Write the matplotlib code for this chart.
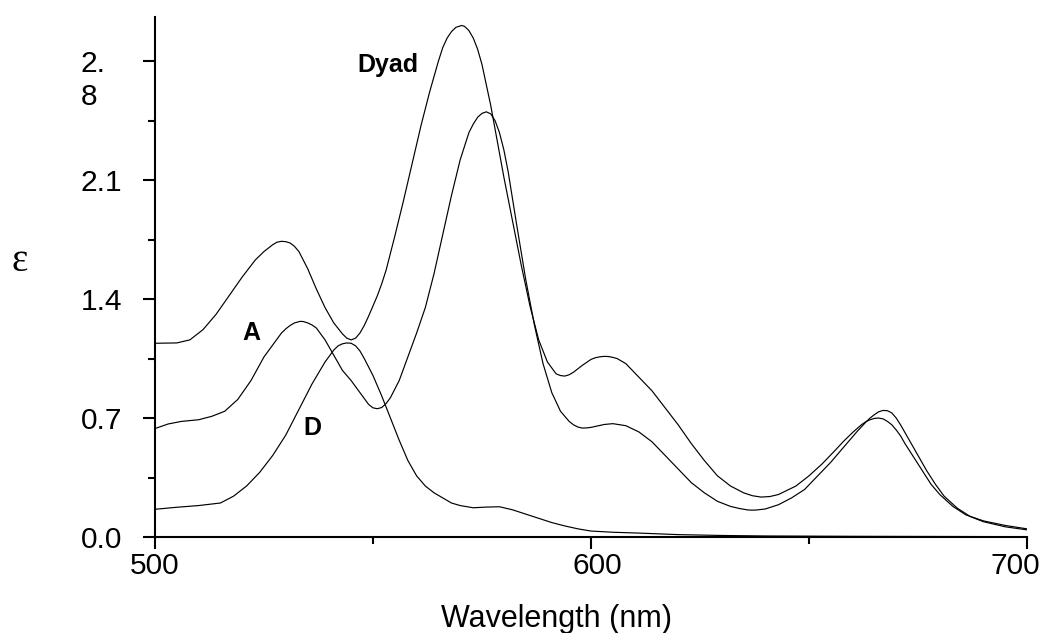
import matplotlib
matplotlib.use("Agg")
import matplotlib.pyplot as plt
from matplotlib.transforms import ScaledTranslation

# ---------------- data ----------------
wl_dyad = [500, 505, 508, 511, 514, 517, 520, 523, 525, 527, 528, 529, 530, 531, 532, 533, 535, 537,
           539, 541, 543, 544, 545, 546, 547, 548, 549, 550, 551, 552, 553, 555, 557, 559, 561, 563,
           565, 566, 567, 568, 569, 570.3, 571, 572, 573, 574, 575, 576, 577, 578, 580, 582, 584, 586,
           588, 590, 592, 593, 594, 595, 596, 598, 600, 601, 602, 603, 604, 605, 606, 608, 611, 614,
           617, 620, 623, 626, 629, 632, 635, 637, 639, 641, 643, 645, 647, 650, 653, 656, 658, 660,
           662, 663, 664, 665, 666, 667, 668, 669, 670, 671, 672, 674, 676, 678, 680, 683, 686, 690,
           695, 700]
eps_dyad = [1.140, 1.142, 1.16, 1.22, 1.31, 1.42, 1.53, 1.63, 1.68, 1.72, 1.735, 1.74, 1.738, 1.73,
            1.71, 1.68, 1.58, 1.46, 1.35, 1.26, 1.195, 1.17, 1.16, 1.17, 1.20, 1.245, 1.30, 1.36, 1.42,
            1.49, 1.57, 1.77, 1.98, 2.20, 2.42, 2.62, 2.80, 2.88, 2.936, 2.974, 2.999, 3.01, 3.005,
            2.98, 2.936, 2.87, 2.78, 2.66, 2.54, 2.40, 2.12, 1.86, 1.60, 1.36, 1.16, 1.03, 0.96, 0.95,
            0.947, 0.955, 0.97, 1.01, 1.045, 1.055, 1.06, 1.063, 1.062, 1.057, 1.05, 1.02, 0.94, 0.86,
            0.76, 0.66, 0.55, 0.45, 0.36, 0.30, 0.26, 0.243, 0.235, 0.238, 0.25, 0.275, 0.30, 0.36,
            0.43, 0.51, 0.565, 0.615, 0.66, 0.678, 0.69, 0.698, 0.70, 0.695, 0.68, 0.66, 0.63, 0.595,
            0.55, 0.47, 0.39, 0.31, 0.25, 0.18, 0.13, 0.095, 0.068, 0.048]

wl_a = [500, 503, 506, 510, 513, 516, 519, 522, 525, 527, 529, 530, 531, 532, 533.3, 534, 535, 536,
        537, 539, 541, 543, 545, 547, 549, 550, 551, 552, 553, 554, 556, 558, 560, 562, 564, 566, 568,
        570, 572, 573, 574, 575, 576, 577, 578, 579, 580, 581, 583, 585, 587, 589, 591, 593, 595, 596,
        597, 598, 599, 600, 603, 605, 608, 611, 614, 617, 620, 623, 626, 629, 632, 634, 636, 637, 638,
        640, 643, 646, 649, 652, 655, 658, 661, 663, 664, 665, 666, 667, 668, 669, 670, 671, 672, 673,
        675, 677, 679, 681, 684, 687, 690, 695, 700]
eps_a = [0.638, 0.665, 0.68, 0.69, 0.71, 0.74, 0.81, 0.92, 1.06, 1.13, 1.20, 1.225, 1.245, 1.26, 1.269,
         1.268, 1.26, 1.248, 1.23, 1.16, 1.07, 0.98, 0.92, 0.85, 0.78, 0.76, 0.755, 0.762, 0.785, 0.82,
         0.92, 1.06, 1.20, 1.35, 1.55, 1.78, 2.01, 2.22, 2.38, 2.43, 2.47, 2.493, 2.502, 2.49, 2.45,
         2.38, 2.28, 2.15, 1.83, 1.52, 1.25, 1.02, 0.85, 0.74, 0.68, 0.66, 0.647, 0.641, 0.642, 0.645,
         0.662, 0.667, 0.655, 0.618, 0.56, 0.48, 0.40, 0.32, 0.26, 0.21, 0.18, 0.168, 0.159, 0.158,
         0.159, 0.165, 0.19, 0.23, 0.28, 0.36, 0.44, 0.53, 0.62, 0.675, 0.70, 0.72, 0.737, 0.745,
         0.743, 0.73, 0.70, 0.66, 0.615, 0.57, 0.48, 0.39, 0.31, 0.24, 0.17, 0.12, 0.09, 0.06, 0.042]

wl_d = [500, 505, 510, 515, 518, 521, 524, 527, 530, 533, 536, 539, 541, 542, 543, 544, 545, 546, 547,
        548, 550, 552, 554, 556, 558, 560, 562, 564, 566, 568, 570, 573, 576, 579, 582, 585, 588, 591,
        594, 597, 600, 605, 611, 620, 630, 640, 660, 680, 700]
eps_d = [0.163, 0.175, 0.185, 0.20, 0.24, 0.30, 0.38, 0.48, 0.60, 0.75, 0.90, 1.03, 1.10, 1.125, 1.137,
         1.142, 1.14, 1.125, 1.095, 1.05, 0.95, 0.83, 0.70, 0.57, 0.45, 0.36, 0.30, 0.26, 0.23, 0.20,
         0.185, 0.172, 0.176, 0.178, 0.16, 0.135, 0.11, 0.085, 0.065, 0.048, 0.035, 0.028, 0.023,
         0.014, 0.009, 0.006, 0.004, 0.003, 0.002]

x_ticks = [500, 600, 700]
x_minor = [550, 650]
y_ticks = [0.0, 0.7, 1.4, 2.1, 2.8]
y_ticklabels = ["0.0", "0.7", "1.4", "2.1", "2.\n8"]
y_minor = [0.35, 1.05, 1.75, 2.45]

labels_text = ["Dyad", "A", "D"]
labels_xy = [(553.4, 2.78), (522.2, 1.20), (536.0, 0.64)]

# ---------------- figure ----------------
plt.rcParams['font.family'] = ['Liberation Sans', 'DejaVu Sans']
W, H, DPI = 1047, 633, 100
fig = plt.figure(figsize=(W / DPI, H / DPI), dpi=DPI)
ax = fig.add_axes([155 / W, 1 - 537 / H, (1027 - 155) / W, (537 - 17) / H])

for x, y in [(wl_dyad, eps_dyad), (wl_a, eps_a), (wl_d, eps_d)]:
    ax.plot(x, y, color='black', lw=0.85, solid_joinstyle='round')

ax.set_xlim(500, 700)
ax.set_ylim(0, 3.06)

for s in ['top', 'right']:
    ax.spines[s].set_visible(False)
for s in ['left', 'bottom']:
    ax.spines[s].set_linewidth(1.5)

ax.set_xticks(x_ticks)
ax.set_xticks(x_minor, minor=True)
ax.set_xticklabels([str(v) for v in x_ticks])
ax.set_yticks(y_ticks)
ax.set_yticks(y_minor, minor=True)
ax.set_yticklabels(y_ticklabels)

ax.tick_params(axis='both', which='major', direction='out', length=8.6, width=1.5, labelsize=21.5)
ax.tick_params(axis='both', which='minor', direction='out', length=4.8, width=1.5)
ax.tick_params(axis='x', which='major', pad=2.5)
ax.tick_params(axis='y', which='major', pad=44.7)

for lab in ax.get_yticklabels():
    lab.set_horizontalalignment('left')

fig.canvas.draw()


def shift(label, dx_px, dy_px):
    label.set_transform(label.get_transform() +
                        ScaledTranslation(dx_px / DPI, dy_px / DPI, fig.dpi_scale_trans))


ylabs = ax.get_yticklabels()
last = ylabs[-1]
last.set_verticalalignment('top')
last.set_multialignment('left')
shift(last, 0, 11)

xlabs = ax.get_xticklabels()
shift(xlabs[1], 6, 0)
shift(xlabs[2], -12, 0)

ax.set_xlabel("Wavelength (nm)", fontsize=22)
ax.xaxis.label.set_verticalalignment('baseline')
ax.xaxis.set_label_coords(0.461, -0.173)

ax.set_ylabel("ε", rotation=0, fontsize=28, family=['Liberation Serif', 'DejaVu Serif'])
ax.yaxis.label.set_verticalalignment('center')
ax.yaxis.label.set_horizontalalignment('center')
ax.yaxis.set_label_coords(-0.155, 0.529)

for t, (x, y) in zip(labels_text, labels_xy):
    ax.text(x, y, t, fontsize=18, fontweight='bold', ha='center', va='center')

fig.savefig("out.png", dpi=DPI)
